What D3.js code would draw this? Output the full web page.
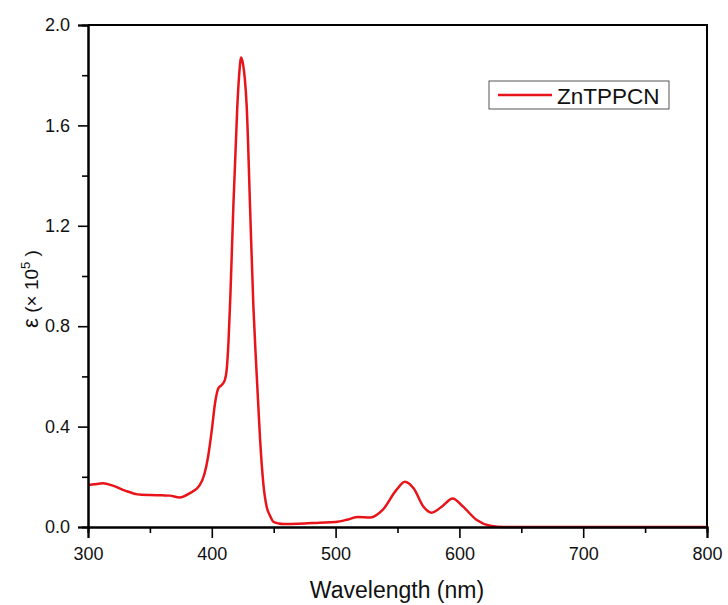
<!DOCTYPE html>
<html>
<head>
<meta charset="utf-8">
<script src="https://cdn.jsdelivr.net/npm/d3@7"></script>
<style>
  body { margin: 0; background: #fff; }
  svg { display: block; font-family: "Liberation Sans", Arial, sans-serif; }
</style>
</head>
<body>
<svg id="chart" width="728" height="605"></svg>
<script>
// Absorption spectrum of ZnTPPCN: wavelength (nm) vs molar absorptivity (×10^5)
const seriesName = "ZnTPPCN";
const wavelength = [300, 305, 312, 320, 330, 340, 350, 360, 366, 374, 382, 390, 394, 397, 400, 402.6,
  405.3, 408, 410.5, 412, 413.5, 415, 417.4, 420.6, 422.2, 423.7, 425.2, 426.6, 428.2, 430.9, 433.6,
  435.5, 437.6, 439, 441.6, 444.3, 447, 449.7, 454, 458, 470, 487, 500, 510, 518, 528, 538,
  549, 556, 563, 571, 577.6, 585.7, 594.6, 603, 614, 625, 636, 650, 700, 800];
const epsilon = [0.167, 0.170, 0.174, 0.165, 0.145, 0.130, 0.127, 0.126, 0.125, 0.118, 0.134, 0.165,
  0.210, 0.280, 0.386, 0.493, 0.553, 0.566, 0.585, 0.625, 0.740, 0.920, 1.276, 1.675, 1.808, 1.871,
  1.845, 1.790, 1.675, 1.276, 0.878, 0.680, 0.480, 0.350, 0.174, 0.081, 0.045, 0.021, 0.014,
  0.012, 0.013, 0.017, 0.020, 0.030, 0.040, 0.038, 0.068, 0.147, 0.180, 0.154, 0.081, 0.057, 0.081,
  0.114, 0.081, 0.028, 0.005, 0.000, 0.000, 0.000, 0.000];
const xTicks = [300, 400, 500, 600, 700, 800];
const xMinorTicks = [350, 450, 550, 650, 750];
const yTicks = [0.0, 0.4, 0.8, 1.2, 1.6, 2.0];
const yMinorTicks = [0.2, 0.6, 1.0, 1.4, 1.8];

const svg = d3.select("#chart");
const plot = { left: 88, right: 707, top: 25, bottom: 527 };
const lineColor = "#e8141a";

const x = d3.scaleLinear().domain([300, 800]).range([plot.left, plot.right]);
const y = d3.scaleLinear().domain([0, 2.0]).range([plot.bottom, plot.top]);

// Frame: top and right edges
svg.append("path")
  .attr("d", `M${plot.left},${plot.top}H${plot.right}V${plot.bottom}`)
  .attr("fill", "none").attr("stroke", "#000").attr("stroke-width", 2);

// Spectrum line
const line = d3.line()
  .x((d, i) => x(wavelength[i]))
  .y(d => y(d))
  .curve(d3.curveMonotoneX);
svg.append("path")
  .datum(epsilon)
  .attr("d", line)
  .attr("fill", "none")
  .attr("stroke", lineColor)
  .attr("stroke-width", 2.5)
  .attr("stroke-linejoin", "round");

// Axes
const xAxis = d3.axisBottom(x).tickValues(xTicks).tickFormat(d3.format("d")).tickSize(11).tickPadding(9);
const xMinor = d3.axisBottom(x).tickValues(xMinorTicks).tickFormat("").tickSize(6);
const yAxis = d3.axisLeft(y).tickValues(yTicks).tickFormat(d3.format(".1f")).tickSize(10).tickPadding(8);
const yMinor = d3.axisLeft(y).tickValues(yMinorTicks).tickFormat("").tickSize(6);

function styleAxis(g) {
  g.selectAll("path.domain").attr("stroke", "#000").attr("stroke-width", 2);
  g.selectAll(".tick line").attr("stroke", "#000").attr("stroke-width", 1.6);
  g.selectAll(".tick text").attr("fill", "#111").attr("font-size", 18)
    .attr("font-family", "'Liberation Sans', Arial, sans-serif");
}

svg.append("g").attr("transform", `translate(0,${plot.bottom})`).call(xMinor).call(styleAxis);
svg.append("g").attr("transform", `translate(0,${plot.bottom})`).call(xAxis).call(styleAxis);
svg.append("g").attr("transform", `translate(${plot.left},0)`).call(yMinor).call(styleAxis);
svg.append("g").attr("transform", `translate(${plot.left},0)`).call(yAxis).call(styleAxis);

// Axis titles
svg.append("text")
  .attr("x", 397).attr("y", 598)
  .attr("text-anchor", "middle").attr("font-size", 23).attr("fill", "#111")
  .text("Wavelength (nm)");

const yTitle = svg.append("text")
  .attr("transform", "translate(38,289) rotate(-90)")
  .attr("text-anchor", "middle").attr("font-size", 19).attr("fill", "#111");
yTitle.append("tspan").attr("font-size", 22).text("ε");
yTitle.append("tspan").text(" (× 10");
yTitle.append("tspan").attr("font-size", 13).attr("dy", -8).text("5");
yTitle.append("tspan").attr("dy", 8).text(" )");

// Legend
const lg = svg.append("g");
lg.append("rect")
  .attr("x", 489).attr("y", 81).attr("width", 180).attr("height", 28)
  .attr("fill", "#fff").attr("stroke", "#555").attr("stroke-width", 1);
lg.append("line")
  .attr("x1", 498).attr("x2", 552).attr("y1", 95).attr("y2", 95)
  .attr("stroke", lineColor).attr("stroke-width", 2.5);
lg.append("text")
  .attr("x", 557).attr("y", 104).attr("font-size", 22.5).attr("fill", "#111")
  .text(seriesName);
</script>
</body>
</html>
